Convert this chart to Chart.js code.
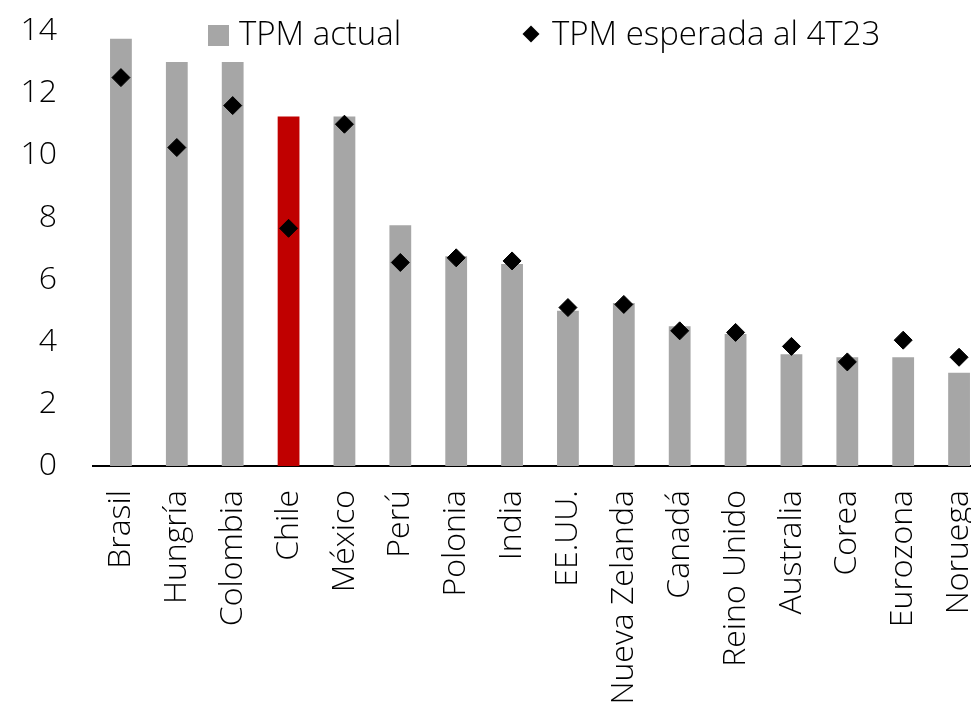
<!DOCTYPE html>
<html lang="es">
<head>
<meta charset="utf-8">
<script src="https://cdn.jsdelivr.net/npm/chart.js@4"></script>
<style>
  html, body { margin: 0; padding: 0; background: #fff; overflow: hidden; }
  #wrap { position: relative; width: 971px; height: 708px; overflow: hidden; }
  #grafico { position: absolute; left: 0; top: 0; }
  .leyenda { position: absolute; top: 13px; font-family: 'Open Sans', sans-serif; font-weight: 300;
             font-size: 33px; color: #000; white-space: nowrap; line-height: 40px; }
  .caja { display: inline-block; width: 21px; height: 21px; background: #A6A6A6; vertical-align: -1px; margin-right: 10px; }
  .rombo { display: inline-block; width: 12px; height: 12px; background: #000; transform: rotate(45deg);
           vertical-align: 5px; margin-right: 15px; margin-left: 3px; }
</style>
</head>
<body>
<div id="wrap">
  <canvas id="grafico" width="997" height="750"></canvas>
  <div class="leyenda" style="left:208px"><span class="caja"></span>TPM actual</div>
  <div class="leyenda" style="left:522px"><span class="rombo"></span>TPM esperada al 4T23</div>
</div>
<script>
// -------------------------------------------------
// Datos: tasa de política monetaria por país
// -------------------------------------------------
const paises = ['Brasil', 'Hungría', 'Colombia', 'Chile', 'México', 'Perú', 'Polonia', 'India',
  'EE.UU.', 'Nueva Zelanda', 'Canadá', 'Reino Unido', 'Australia', 'Corea', 'Eurozona', 'Noruega'];

const tpmActual = [13.75, 13.0, 13.0, 11.25, 11.25, 7.75, 6.75, 6.5,
  5.0, 5.25, 4.5, 4.25, 3.6, 3.5, 3.5, 3.0];

const tpmEsperada = [12.5, 10.25, 11.6, 7.65, 11.0, 6.55, 6.7, 6.6,
  5.1, 5.2, 4.35, 4.3, 3.85, 3.35, 4.05, 3.5];

const ticksY = [0, 2, 4, 6, 8, 10, 12, 14];

// Chile va en rojo, el resto en gris
const coresBarras = paises.map(p => p === 'Chile' ? '#C00000' : '#A6A6A6');

const fonte = { family: "'Open Sans', sans-serif", size: 32, weight: 300 };

const ctx = document.getElementById('grafico').getContext('2d');
new Chart(ctx, {
  data: {
    labels: paises,
    datasets: [
      {
        type: 'line',
        label: 'TPM esperada al 4T23',
        data: tpmEsperada,
        showLine: false,
        pointStyle: 'rectRot',
        pointRadius: 9,
        pointBackgroundColor: '#000',
        pointBorderColor: '#000',
        pointBorderWidth: 1,
        order: 0
      },
      {
        type: 'bar',
        label: 'TPM actual',
        data: tpmActual,
        backgroundColor: coresBarras,
        barPercentage: 0.39,
        categoryPercentage: 1.0,
        order: 1
      }
    ]
  },
  options: {
    responsive: false,
    animation: false,
    layout: { padding: 0 },
    plugins: { legend: { display: false }, tooltip: { enabled: false } },
    scales: {
      x: {
        grid: { display: false, drawTicks: false },
        border: { display: true, color: '#000', width: 2 },
        ticks: { color: '#000', font: fonte, minRotation: 90, maxRotation: 90, padding: 24, autoSkip: false },
        afterFit: (escala) => {
          escala.height = 750 - 466;
          escala.paddingLeft = 0;
          escala.paddingRight = 0;
        }
      },
      y: {
        min: 0,
        max: 14,
        afterBuildTicks: (escala) => { escala.ticks = ticksY.map(v => ({ value: v })); },
        grid: { display: false, drawTicks: false },
        border: { display: false },
        ticks: { color: '#000', font: fonte, padding: 36 },
        afterFit: (escala) => {
          escala.width = 93;
          escala.paddingTop = 31;
          escala.paddingBottom = 0;
        }
      }
    }
  }
});
</script>
</body>
</html>
